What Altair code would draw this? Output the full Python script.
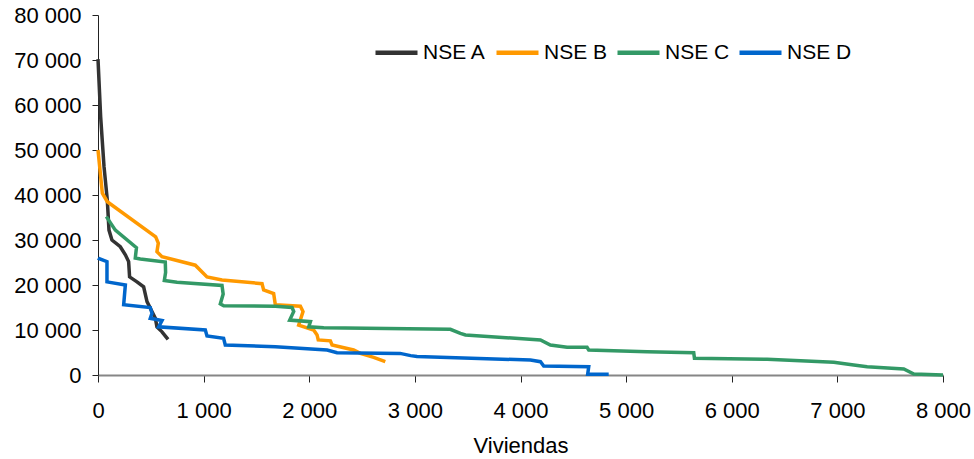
import altair as alt
import pandas as pd

series_names = ["NSE A", "NSE B", "NSE C", "NSE D"]
series_colors = ["#333333", "#FF9900", "#339966", "#0066CC"]

a_x = [0, 25, 57, 88, 104, 132, 211, 259, 290, 299, 369, 432, 464, 505, 543, 558, 606, 663]
a_y = [70200, 57400, 46300, 38900, 32200, 30000, 28500, 26700, 25200, 21800, 20700, 19600, 16300, 14400, 12600, 10700, 9600, 7900]

b_x = [0, 41, 88, 546, 571, 558, 606, 921, 1032, 1174, 1553, 1568, 1663, 1679, 1916, 1941, 1900, 2042, 2074, 2085, 2200, 2216, 2420, 2484, 2610, 2720]
b_y = [50000, 40400, 38500, 30700, 29300, 27400, 26300, 24400, 21800, 21100, 20300, 18900, 18100, 15600, 15300, 14100, 11100, 10000, 8900, 7800, 7600, 6670, 5550, 4800, 3930, 2960]

c_x = [79, 164, 364, 353, 401, 637, 640, 628, 748, 1174, 1185, 1158, 1190, 1679, 1837, 1853, 1815, 2011, 1995, 2137, 3336, 3431, 3479, 4189, 4283, 4441, 4630, 4646, 5199, 5640, 5647, 6335, 6966, 7155, 7282, 7629, 7724, 8000]
c_y = [35200, 32200, 28300, 26000, 25800, 25100, 22800, 21000, 20600, 19900, 18000, 15800, 15400, 15300, 15000, 14100, 12200, 11850, 10700, 10500, 10150, 9250, 8900, 7800, 6670, 6150, 6150, 5550, 5190, 4960, 3700, 3480, 2810, 2220, 1850, 1330, 220, 0]

d_x = [0, 6, 85, 85, 259, 243, 495, 511, 495, 606, 574, 1016, 1032, 1189, 1205, 1679, 2169, 2263, 2860, 2960, 3020, 4094, 4189, 4220, 4646, 4636, 4835]
d_y = [26000, 25900, 25200, 20700, 20000, 15600, 15000, 13700, 12600, 12100, 10700, 10000, 8670, 8140, 6670, 6300, 5550, 4960, 4800, 4300, 4100, 3330, 2960, 2000, 1850, 150, 150]

x_ticks = [0, 1000, 2000, 3000, 4000, 5000, 6000, 7000, 8000]
y_ticks = [0, 10000, 20000, 30000, 40000, 50000, 60000, 70000, 80000]

rows = []
for name, xs, ys in zip(series_names, [a_x, b_x, c_x, d_x], [a_y, b_y, c_y, d_y]):
    for i, (xv, yv) in enumerate(zip(xs, ys)):
        rows.append({"serie": name, "x": xv, "y": yv, "i": i})
df = pd.DataFrame(rows)

FONT = "Liberation Sans"
FS = 22

chart = alt.Chart(df).mark_line(strokeWidth=3.5, interpolate="linear").encode(
    x=alt.X("x:Q", title="Viviendas",
            scale=alt.Scale(domain=[0, 8000], nice=False, zero=False),
            axis=alt.Axis(values=x_ticks, grid=False, tickSize=7, labelPadding=18,
                          labelFlush=False,
                          domainColor="#868686", domainWidth=2, tickColor="#222222",
                          labelExpr="replace(format(datum.value, ','), ',', ' ')",
                          titlePadding=14)),
    y=alt.Y("y:Q", title=None,
            scale=alt.Scale(domain=[0, 80000], nice=False),
            axis=alt.Axis(values=y_ticks, grid=False, tickSize=6, labelPadding=11,
                          labelFlush=False,
                          domainColor="#222222", tickColor="#222222",
                          labelExpr="replace(format(datum.value, ','), ',', ' ')")),
    color=alt.Color("serie:N",
                    scale=alt.Scale(domain=series_names, range=series_colors),
                    legend=alt.Legend(title=None, orient="none", direction="horizontal",
                                      legendX=275, legendY=14,
                                      symbolType="stroke", symbolSize=1764,
                                      symbolStrokeWidth=4.5, labelOffset=3,
                                      columnPadding=0)),
    order="i:Q",
).properties(
    width=845, height=360,
    autosize=alt.AutoSizeParams(type="none"),
    padding={"left": 98, "top": 15, "right": 31, "bottom": 84},
).configure_view(stroke=None).configure_axis(
    labelFont=FONT, labelFontSize=FS, labelColor="#000000",
    titleFont=FONT, titleFontSize=FS, titleFontWeight="normal", titleColor="#000000",
).configure_legend(
    labelFont=FONT, labelFontSize=21, labelColor="#000000",
)

chart.save("out.html", embed_options={"renderer": "svg", "actions": False})
